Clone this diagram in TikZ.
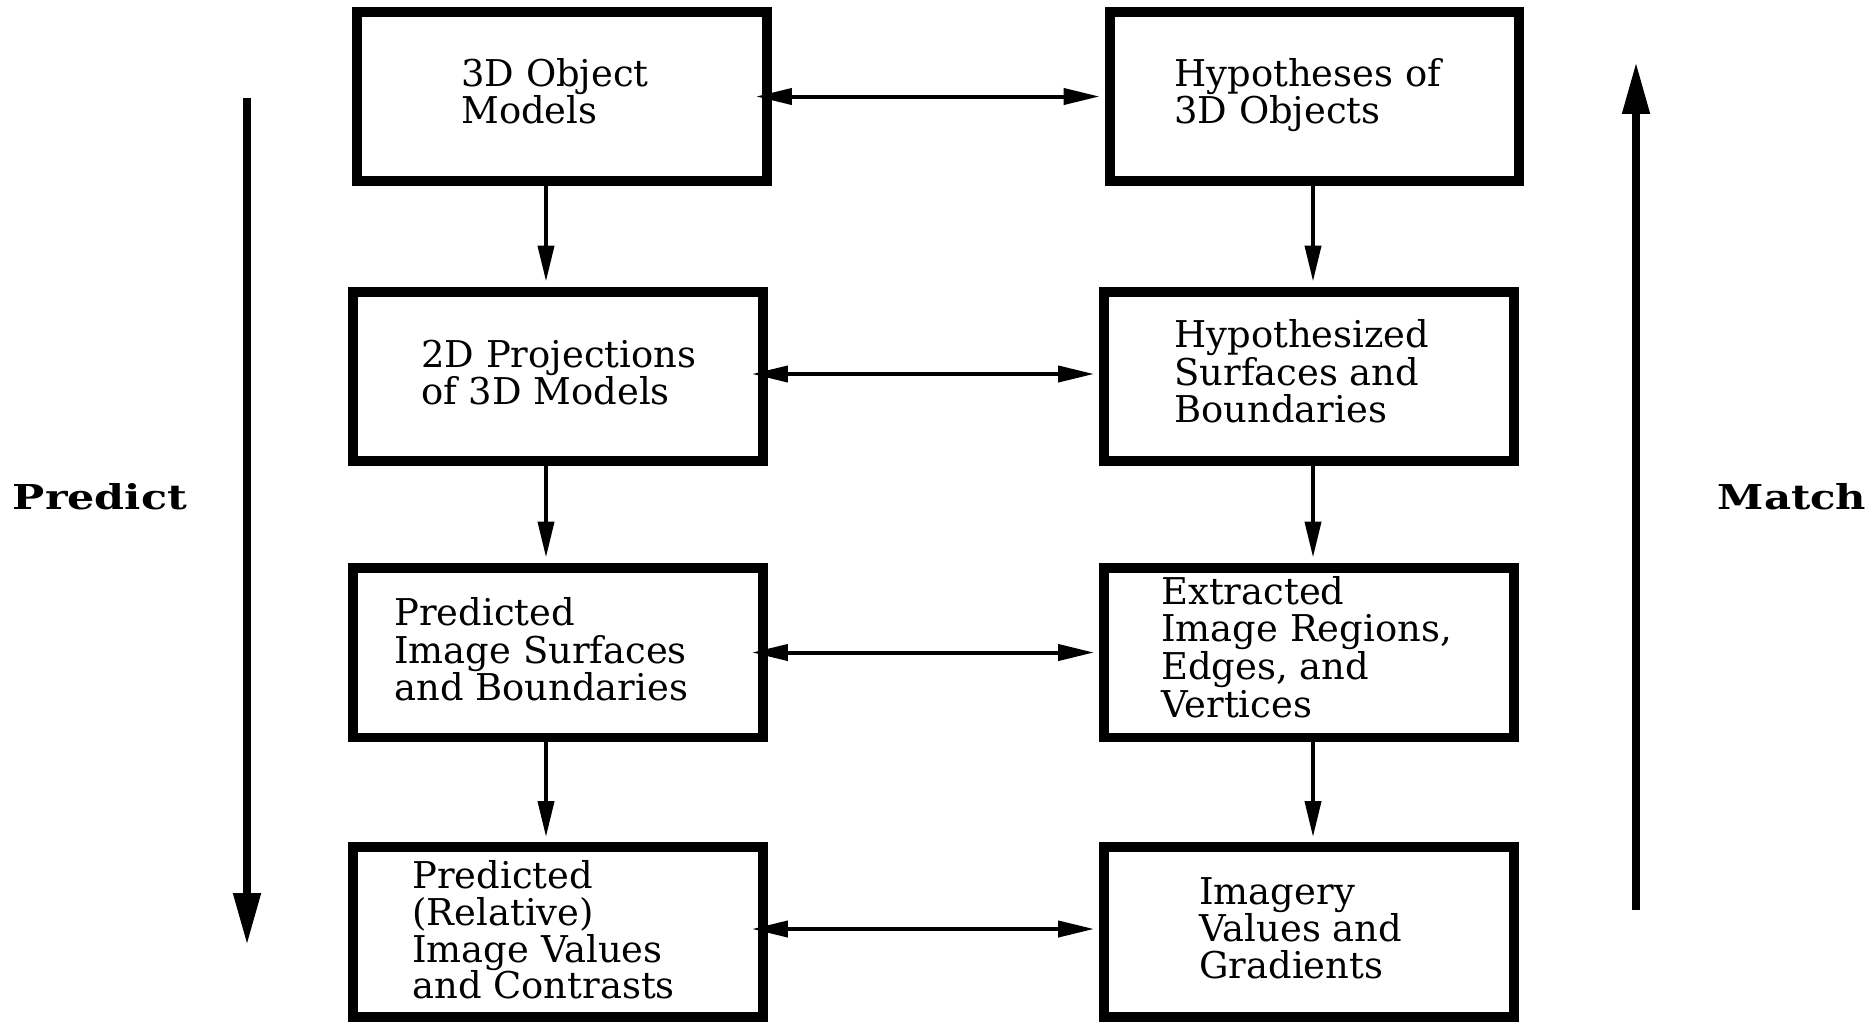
\documentclass[tikz,border=0pt]{standalone}
\usepackage{fontspec}
\setmainfont{DejaVu Serif}
\usepackage{graphicx}
\usetikzlibrary{arrows.meta}
\begin{document}
\begin{tikzpicture}[x=0.02cm,y=-0.02cm,
  stage/.style={draw,line width=0.2cm,minimum width=8.2cm,minimum height=3.4cm,inner sep=0pt},
  txt/.style={anchor=base west,inner sep=0pt,font=\fontsize{21pt}{25pt}\selectfont},
  side/.style={inner sep=0pt,font=\fontsize{19.5pt}{23pt}\selectfont\bfseries},
  flow/.style={line width=0.08cm,-{Triangle[length=0.72cm,width=0.32cm]}},
  link/.style={line width=0.08cm,{Triangle[length=0.72cm,width=0.32cm]}-{Triangle[length=0.72cm,width=0.32cm]}},
  bigflow/.style={line width=0.16cm,-{Triangle[length=1.04cm,width=0.52cm]}}]
\useasboundingbox[fill=white] (0,0) rectangle (1872,1022);

% prediction column
\node[stage] (L1) at (562,96.5) {};
\node[stage] (L2) at (558,376.5) {};
\node[stage] (L3) at (558,652.5) {};
\node[stage] (L4) at (558,932) {};
% matching column
\node[stage] (R1) at (1314.5,96.5) {};
\node[stage] (R2) at (1309,376.5) {};
\node[stage] (R3) at (1309,652.5) {};
\node[stage] (R4) at (1309,932) {};

% box texts
\node[txt] (tL1) at (461,86) {\vtop{\baselineskip=0.76cm\hbox{3D Object}\hbox{Models}}};
\node[txt] (tL2) at (421,367) {\vtop{\baselineskip=0.74cm\hbox{2D Projections}\hbox{of 3D Models}}};
\node[txt] (tL3) at (394,625) {\vtop{\baselineskip=0.76cm\hbox{Predicted}\hbox{Image Surfaces}\hbox{and Boundaries}}};
\node[txt] (tL4) at (412,888) {\vtop{\baselineskip=0.74cm\lineskiplimit=-1cm\hbox{Predicted}\hbox{(Relative)}\hbox{Image Values}\hbox{and Contrasts}}};
\node[txt] (tR1) at (1174,86) {\vtop{\baselineskip=0.76cm\hbox{Hypotheses of}\hbox{3D Objects}}};
\node[txt] (tR2) at (1174,347) {\vtop{\baselineskip=0.76cm\hbox{Hypothesized}\hbox{Surfaces and}\hbox{Boundaries}}};
\node[txt] (tR3) at (1161,604) {\vtop{\baselineskip=0.755cm\hbox{Extracted}\hbox{Image Regions,}\hbox{Edges, and}\hbox{Vertices}}};
\node[txt] (tR4) at (1199,904) {\vtop{\baselineskip=0.74cm\hbox{Imagery}\hbox{Values and}\hbox{Gradients}}};

% column axes for the vertical connectors
\coordinate (lc) at (546,0);
\coordinate (rc) at (1313,0);

% downward connectors
\draw[flow,shorten >=0.1cm] (L1.south -| lc) -- (L2.north -| lc);
\draw[flow,shorten >=0.1cm] (L2.south -| lc) -- (L3.north -| lc);
\draw[flow,shorten >=0.1cm] (L3.south -| lc) -- (L4.north -| lc);
\draw[flow,shorten >=0.1cm] (R1.south -| rc) -- (R2.north -| rc);
\draw[flow,shorten >=0.1cm] (R2.south -| rc) -- (R3.north -| rc);
\draw[flow,shorten >=0.1cm] (R3.south -| rc) -- (R4.north -| rc);

% two-way links between the columns
\draw[link] ([xshift=-0.32cm]L1.east) -- ([xshift=-0.1cm]R1.west |- L1.east);
\draw[link] ([xshift=-0.32cm,yshift=0.05cm]L2.east) -- ([xshift=-0.1cm,yshift=0.05cm]R2.west);
\draw[link] ([xshift=-0.32cm]L3.east) -- ([xshift=-0.1cm]R3.west);
\draw[link] ([xshift=-0.32cm,yshift=0.06cm]L4.east) -- ([xshift=-0.1cm,yshift=0.06cm]R4.west);

% side arrows and labels
\coordinate (pTop) at (247,98);
\coordinate (pBot) at (247,945);
\coordinate (mBot) at (1636,910);
\coordinate (mTop) at (1636,62);
\draw[bigflow] (pTop) -- (pBot);
\draw[bigflow] (mBot) -- (mTop);
\node[side] (predict) at (100,497) {\scalebox{1.25}[1]{Predict}};
\node[side] (match) at (1792,497) {\scalebox{1.22}[1]{Match}};
\end{tikzpicture}
\end{document}
